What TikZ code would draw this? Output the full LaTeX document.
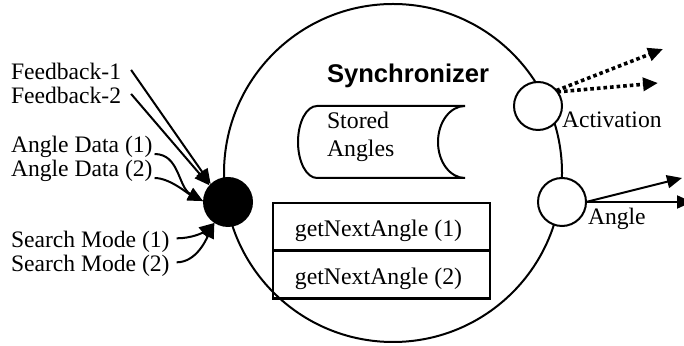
\documentclass[tikz,border=0pt]{standalone}
\usepackage{fontspec}
\setmainfont{Liberation Serif}
\newfontfamily\headfont{Liberation Sans}
\usetikzlibrary{arrows.meta}
\begin{document}
\begin{tikzpicture}[x=0.5pt,y=-0.5pt,
  every node/.style={inner sep=0pt, outer sep=0pt},
  lbl/.style={font=\fontsize{11.8}{14}\selectfont, anchor=base west},
  optext/.style={font=\fontsize{11.9}{14}\selectfont, anchor=base},
  smallport/.style={circle, draw, line width=1pt, fill=white, minimum size=24pt},
  opbox/.style={draw, line width=1.2pt, minimum width=108.5pt, minimum height=24pt},
  wire/.style={line width=1pt, -{Triangle[length=7.5pt,width=6.5pt]}},
  dotwire/.style={line width=1.8pt, dash pattern=on 1.8pt off 1.5pt,
                  -{Triangle[length=7.5pt,width=6.5pt]}},
]
\useasboundingbox (0,0) rectangle (684,346);
\clip (0,0) rectangle (684,346);

% component boundary
\node[circle, draw, line width=1pt, minimum size=169pt] (sync) at (393,173) {};
\node[anchor=base west, font=\headfont\bfseries\fontsize{12.8}{15}\selectfont] (title) at (327,83) {Synchronizer};

% data store
\draw[line width=1pt]
  (317,106) -- (465,106)
  .. controls (450.1,106) and (438,122.1) .. (438,142)
  .. controls (438,161.9) and (450.1,178) .. (465,178)
  -- (317,178)
  .. controls (306.5,178) and (298,161.9) .. (298,142)
  .. controls (298,122.1) and (306.5,106) .. cycle;
\node[lbl, font=\fontsize{11.9}{14}\selectfont] (stored) at (327,129) {Stored};
\node[lbl, font=\fontsize{11.9}{14}\selectfont] (angles) at (327,157) {Angles};

% operations
\node[opbox] (op1) at (381.5,227) {};
\node[opbox] (op2) at (381.5,274.5) {};
\node[optext] (op1t) at (378.5,237) {getNextAngle (1)};
\node[optext] (op2t) at (378.5,285) {getNextAngle (2)};

% ports
\node[circle, fill=black, minimum size=25pt] (hub) at (228,202) {};
\node[smallport] (act) at (538,106) {};
\node[smallport] (ang) at (562,202) {};
\node[lbl] (actl) at (562,128) {Activation};
\node[lbl] (angl) at (588,225) {Angle};

% inputs
\node[lbl] (fb1) at (11,80) {Feedback-1};
\node[lbl] (fb2) at (11,104) {Feedback-2};
\node[lbl] (ad1) at (11,153) {Angle Data (1)};
\node[lbl] (ad2) at (11,177) {Angle Data (2)};
\node[lbl] (sm1) at (11,248) {Search Mode (1)};
\node[lbl] (sm2) at (11,272) {Search Mode (2)};

\draw[wire] ([xshift=5pt,yshift=1pt]fb1.east) -- (hub.134);
\draw[wire] ([xshift=5pt,yshift=1pt]fb2.east) -- (hub.138);
\draw[wire] ([xshift=1pt,yshift=-0.5pt]ad1.base east)
  .. controls +(25,0) and +(-25,-14) .. (hub.178);
\draw[wire] ([xshift=1pt,yshift=-0.5pt]ad2.base east)
  .. controls +(15,0) and +(-16,-8) .. (hub.178);
\draw[wire] ([xshift=3.5pt,yshift=2pt]sm1.east)
  .. controls +(15,0) and +(-12,10) .. (hub.237);
\draw[wire] ([xshift=3.5pt,yshift=2pt]sm2.east)
  .. controls +(20,0) and +(-8,16) .. (hub.237);

% outputs
\coordinate (actout1) at (663,49);
\coordinate (actout2) at (658,83);
\coordinate (angout1) at (682,178);
\coordinate (angout2) at (692,202);
\draw[dotwire] (act.40) -- (actout1);
\draw[dotwire] (act.36) -- (actout2);
\draw[wire] (ang.east) -- (angout1);
\draw[wire] (ang.east) -- (angout2);
\end{tikzpicture}
\end{document}
